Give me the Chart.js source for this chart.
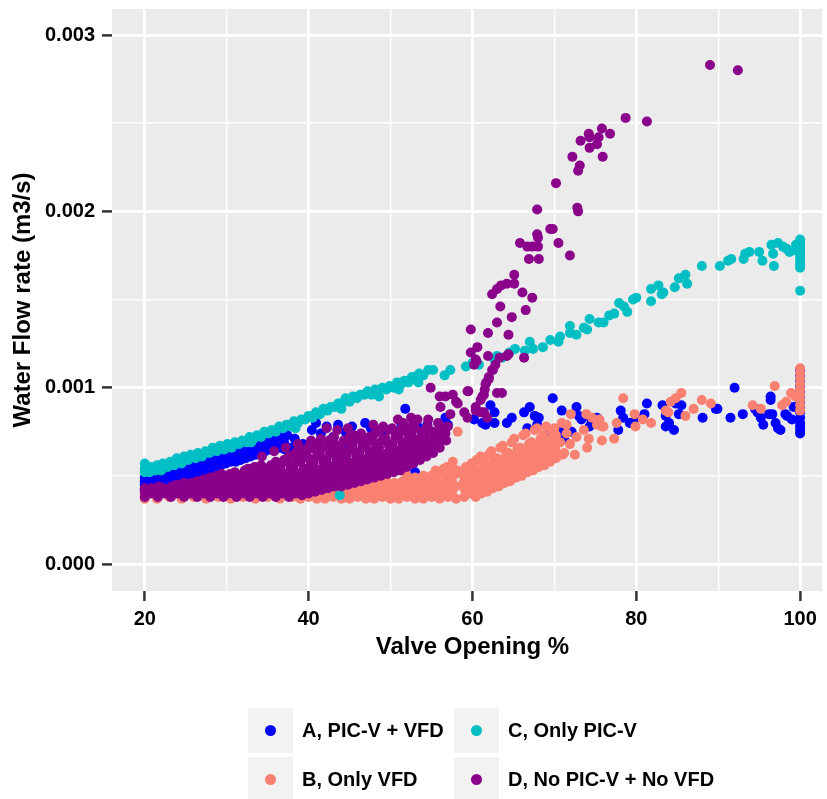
<!DOCTYPE html>
<html>
<head>
<meta charset="utf-8">
<script src="https://cdn.jsdelivr.net/npm/chart.js@4.4.1/dist/chart.umd.min.js"></script>
<style>
  html, body { margin: 0; padding: 0; background: #ffffff; overflow: hidden; }
  #wrap { position: relative; width: 827px; height: 799px; }
  #c { position: absolute; left: 0; top: 0; }
  .key { position: absolute; width: 45px; height: 45px; background: #F2F2F2; }
  .dot { position: absolute; left: 17px; top: 17px; width: 11px; height: 11px; border-radius: 50%; }
  .lab { position: absolute; height: 45px; white-space: nowrap;
         font: bold 20px "Liberation Sans", Arial, Helvetica, sans-serif; line-height: 45px; color: #000; }
</style>
</head>
<body>
<div id="wrap">
  <canvas id="c" width="827" height="799"></canvas>
  <div id="legend"></div>
</div>
<script>
// Series names (legend order)
const categories = ['A, PIC-V + VFD', 'B, Only VFD', 'C, Only PIC-V', 'D, No PIC-V + No VFD'];
const xAxisTitle = 'Valve Opening %';
const yAxisTitle = 'Water Flow rate (m3/s)';

// Axis ticks: majors carry a label, minors only a grid line
const xTicks = [20, 30, 40, 50, 60, 70, 80, 90, 100];
const xTickLabels = ['20', '', '40', '', '60', '', '80', '', '100'];
const yTicks = [0, 0.0005, 0.001, 0.0015, 0.002, 0.0025, 0.003];
const yTickLabels = ['0.000', '', '0.001', '', '0.002', '', '0.003'];

// [valve opening %, water flow rate m3/s]
const seriesA = [
  [20,.00042],[20,.00045],[20,.00047],[20,.00049],
  [20.5,.00049],[20.7,.00044],[21.1,.0005],[21.3,.00046],[21.7,.00051],[22,.00047],[22.3,.00052],[22.6,.00048],
  [22.9,.00053],[23.2,.00049],[23.5,.00054],[23.8,.0005],[24.1,.00055],[24.4,.00051],[24.7,.00056],[25,.00052],
  [25.3,.00057],[25.6,.00053],[25.9,.00058],[26.2,.00054],[26.5,.00059],[26.8,.00055],[27.1,.0006],[27.4,.00056],
  [27.7,.00061],[28,.00057],[28.3,.00062],[28.6,.00058],[28.9,.00063],[29.2,.00059],[29.5,.00064],[29.8,.0006],
  [30.1,.00065],[30.4,.00061],[30.7,.00066],[31,.00062],[31.3,.00066],[31.6,.00063],[31.9,.00067],[32.2,.00064],
  [32.5,.00068],[32.8,.00065],[33.1,.00069],[33.4,.00066],[33.7,.0007],[34,.00067],[34.3,.00071],[34.6,.00068],
  [34.9,.00072],[35.2,.00069],[35.5,.00073],[35.8,.0007],[36.2,.00072],[36.6,.00074],[37,.00069],[37.4,.00073],
  [37.9,.00066],[38.3,.00071],[38.8,.00063],[39.3,.00068],
  [21.5,.00043],[22.1,.00044],[22.7,.00045],[23.3,.00046],[23.9,.00047],[24.5,.00048],[25.1,.00049],[25.7,.0005],
  [26.3,.00051],[26.9,.00052],[27.5,.00053],[28.1,.00054],[28.7,.00055],[29.3,.00056],[29.9,.00057],[30.5,.00058],
  [31.1,.00058],[31.7,.00059],[32.3,.0006],[32.9,.00061],[33.5,.00062],[34.1,.00063],[34.7,.00064],[35.3,.00065],
  [35.9,.00066],[36.5,.00066],[37.1,.00065],[37.7,.00062],[38.5,.00067],[39.5,.00064],
  [40.4,.00076],[40.9,.0008],[41.5,.00074],[42.2,.00078],[43,.00072],[43.6,.00079],[44,.00066],[44.5,.00075],
  [45.3,.00078],[46.2,.00073],[46.9,.0008],[47.6,.00077],[48.8,.00076],[49.3,.00075],[50.7,.00074],[51.3,.0008],
  [51.8,.00088],[53,.00052],[53.3,.00078],[54.5,.00079],[56.7,.00083],[57,.00079],[60.2,.00082],[61.2,.0008],
  [61.6,.00079],[62.2,.0009],[62.7,.00086],[62.7,.0008],[64.2,.0008],[64.8,.00083],[66.3,.00086],[66.7,.00077],
  [67,.00089],[67.6,.00084],[68.1,.00083],[67.9,.00079],[69.6,.00075],[69.8,.00094],[70.7,.00076],[70.9,.00087],
  [71.2,.00071],[72.1,.00075],[72.7,.00089],[73,.00084],[73.3,.00082],[74.3,.00078],[74.5,.00082],[75.2,.00083],
  [77.8,.00076],[78.1,.00087],[78.4,.00083],[79.2,.0008],[79.4,.0008],[80,.00083],[81,.00085],[81.3,.00091],
  [83.2,.0009],[83.6,.00084],[83.6,.00078],[84,.0008],[84.6,.00076],[85.2,.00085],[85.5,.0009],[84.8,.00091],
  [88.1,.00083],[89.7,.00088],[89.9,.00088],[91.5,.00083],[92,.001],[93,.00085],[94.5,.00088],[94.8,.00086],
  [95.2,.00083],[95.5,.00079],[96.2,.00085],[96.4,.00093],[96.4,.00095],[96.6,.00085],[97,.0008],[97.3,.00077],
  [97.6,.00076],[98.2,.00085],[98.4,.00084],[99,.00082],[99.2,.00089],
  [100,.0011],[100,.00107],[100,.00104],[100,.00101],[100,.00098],[100,.00095],[100,.00092],[100,.00089],
  [100,.00086],[100,.00083],[100,.0008],[100,.00078],[100,.00076],[100,.00074]
];

const seriesB = [
  [20,.00037],[20,.0004],[21.5,.00037],[23,.00038],[24.5,.00037],[26,.00038],[27.5,.00037],[29,.00038],
  [30.5,.00037],[32,.00038],[33.5,.00037],[35,.00038],[36.5,.00037],[38,.00038],
  [39,.00037],[40,.00038],[41,.00037],[42,.00037],[43,.00038],[44,.00037],[45,.00037],[46,.00038],[47,.00037],
  [48,.00037],[49,.00038],[50,.00037],[51,.00037],[52,.00038],[53,.00037],[54,.00037],[55,.00038],[56,.00037],
  [57,.00038],[58,.00037],
  [39.5,.0004],[40.5,.00041],[41.5,.0004],[42.5,.0004],[43.5,.00041],[44.5,.0004],[45.5,.0004],[46.5,.00041],
  [47.5,.0004],[48.5,.0004],[49.5,.00041],[50.5,.0004],[51.5,.00041],[52.5,.0004],[53.5,.00041],[54.5,.0004],
  [55.5,.00041],[56.5,.0004],[57.5,.00041],
  [41,.00043],[42,.00043],[43,.00044],[44,.00043],[45,.00043],[46,.00044],[47,.00043],[48,.00044],[49,.00043],
  [50,.00044],[51,.00043],[52,.00044],[53,.00044],[54,.00043],[55,.00044],[56,.00044],[57,.00043],[58,.00044],
  [46.5,.00046],[48.5,.00046],[49.5,.00047],[50.5,.00046],[51.5,.00047],[52.5,.00047],[53.5,.00046],[54.5,.00047],
  [55.5,.00047],[56.5,.00046],[57.5,.00047],
  [52,.0005],[53,.00049],[54,.0005],[55,.0005],[56,.00051],[57,.0005],[58,.00051],
  [55.5,.00053],[56.5,.00054],[57.5,.00055],[58.2,.00053],[57.6,.00058],[56.9,.00055],
  [59,.00038],[59.1,.00042],[58.9,.00046],[59,.0005],[59.2,.00055],
  [59.7,.0004],[59.8,.00044],[59.6,.00048],[59.7,.00052],[59.9,.00057],
  [60.4,.00038],[60.3,.00042],[60.5,.00046],[60.4,.0005],[60.2,.00054],[60.5,.00059],
  [61.1,.0004],[61.2,.00044],[61,.00048],[61.1,.00052],[61.3,.00056],[61,.00061],
  [61.8,.00041],[61.7,.00045],[61.9,.00049],[61.8,.00053],[61.6,.00057],[62,.00062],
  [62.5,.00043],[62.6,.00047],[62.4,.00051],[62.5,.00055],[62.7,.00059],[62.3,.00064],
  [63.2,.00044],[63.1,.00048],[63.3,.00052],[63.2,.00056],[63,.0006],[63.4,.00066],
  [63.9,.00046],[64,.0005],[63.8,.00054],[63.9,.00058],[64.1,.00062],[63.7,.00067],
  [64.6,.00047],[64.5,.00051],[64.7,.00055],[64.6,.00059],[64.4,.00063],[64.8,.00069],
  [65.3,.00049],[65.4,.00053],[65.2,.00057],[65.3,.00061],[65.5,.00065],[65.1,.00071],
  [66,.0005],[65.9,.00054],[66.1,.00058],[66,.00062],[65.8,.00066],[66.2,.00073],
  [66.7,.00052],[66.8,.00056],[66.6,.0006],[66.7,.00064],[66.9,.00068],[66.5,.00074],
  [67.4,.00053],[67.3,.00057],[67.5,.00061],[67.4,.00065],[67.2,.00069],[67.6,.00076],
  [68.1,.00055],[68.2,.00059],[68,.00063],[68.1,.00067],[68.3,.00071],[67.9,.00077],
  [68.8,.00056],[68.7,.0006],[68.9,.00064],[68.8,.00068],[68.6,.00073],[69,.00078],
  [69.5,.00058],[69.6,.00062],[69.4,.00066],[69.5,.0007],[69.7,.00075],
  [70.2,.0006],[70.1,.00065],[70.3,.00069],[70.2,.00073],[70,.00077],
  [71,.00062],[70.7,.00069],[71.2,.00063],[71.9,.00068],[71.5,.00074],
  [58.2,.00075],[70.9,.0008],[71.5,.00079],[72,.00085],[72.5,.00062],[72.7,.00072],[73.6,.00076],[73.9,.00085],
  [74,.00066],[74.2,.00071],[74.6,.00083],[75.2,.00079],[75.5,.00082],[75.8,.00078],[75.8,.0007],[76,.00078],
  [77.3,.00071],[77.6,.0008],[78.4,.00094],[79.8,.00085],[79.9,.00078],[80.8,.00082],[81.8,.0008],[83.6,.00087],
  [83.9,.00086],[84.2,.00092],[84.8,.00094],[85.5,.00097],[86,.00084],[87,.00088],[88,.00093],[89.1,.00091],
  [94.2,.0009],[95.2,.00088],[96.9,.00101],[97.8,.0009],[98.3,.00092],[98.9,.00097],[99.4,.00095],
  [100,.00111],[100,.00108],[100,.00105],[100,.00102],[100,.00099],[100,.00096],[100,.00093],[100,.0009],[100,.00087]
];

const seriesC = [
  [20,.00052],[20,.00054],[20,.00057],
  [20.6,.00052],[20.8,.00055],[21.3,.00053],[21.5,.00056],[22,.00053],[22.2,.00057],[22.8,.00055],[23.1,.00058],
  [23.6,.00056],[23.9,.0006],[24.5,.00057],[24.8,.00061],[25.3,.00059],[25.6,.00062],[26.2,.0006],[26.5,.00063],
  [27,.00061],[27.4,.00064],[27.9,.00063],[28.3,.00066],[28.8,.00064],[29.2,.00067],[29.7,.00065],[30.1,.00068],
  [30.6,.00066],[31,.00069],[31.5,.00068],[31.9,.0007],[32.4,.00069],[32.8,.00072],[33.3,.00071],[33.7,.00073],
  [34.2,.00072],[34.6,.00075],[35.1,.00074],[35.5,.00076],[36,.00075],[36.4,.00078],[36.9,.00077],[37.3,.00079],
  [37.8,.00078],[38.2,.00081],[38.7,.0008],[39.1,.00082],[39.6,.00082],[40,.00084],[40.5,.00083],[40.9,.00086],
  [41.4,.00085],[41.8,.00088],[42.3,.00087],[42.7,.00089],[43.2,.00089],[43.6,.00091],[44.1,.00091],[44.5,.00094],
  [45,.00092],[45.4,.00095],[45.9,.00094],[46.3,.00096],[46.8,.00096],[47.2,.00098],[47.7,.00096],[48.1,.00099],
  [48.6,.00095],[49,.001],[49.5,.00099],[49.9,.00101],[50.4,.001],[50.8,.00103],[51.3,.00102],[51.7,.00104],
  [52.2,.00103],[52.6,.00106],[53.1,.00106],[53.5,.00108],[54,.00107],[54.6,.0011],[55.2,.0011],[56.6,.00107],
  [33,.00069],[38.4,.00077],[44,.00088],[51,.00099],[53.4,.00103],
  [57.3,.0011],[59.2,.00112],[60,.00114],[60.8,.00113],[62.7,.00116],[63,.00118],[63.6,.00117],[64.5,.0012],
  [65.2,.00122],[66.4,.00121],[67,.00126],[67.4,.00122],[68.6,.00123],[69.5,.00127],[70.5,.00126],[70.7,.00129],
  [71.9,.00131],[71.9,.00135],[72.7,.0013],[73.6,.00134],[74,.00133],[74.3,.00139],[75.4,.00137],[76,.00137],
  [76.7,.00141],[77.3,.00142],[77.9,.00148],[78.5,.00146],[78.9,.00143],[79.6,.0015],[80,.00151],[81.8,.00149],
  [81.8,.00156],[82.7,.00158],[83.1,.00153],[83.3,.00154],[84.7,.00157],[85.2,.00162],[86,.00164],[86.2,.00159],
  [88,.00169],[90.2,.00169],[91.2,.00172],[91.6,.00173],[93.1,.00173],[93.3,.00176],[93.8,.00177],[95,.00177],
  [95.4,.00172],[96.5,.00181],[96.7,.00176],[96.8,.00169],[97.3,.00182],[97.9,.0018],[98.3,.00179],[98.7,.00177],
  [99.2,.00178],[99.5,.00181],
  [100,.00184],[100,.00182],[100,.0018],[100,.00178],[100,.00176],[100,.00174],[100,.00172],[100,.0017],
  [100,.00168],[100,.00155],[43.8,.00039]
];

const seriesD = [
  [20,.00038],[20,.00041],[20,.00043],
  [20.8,.0004],[20.8,.00043],
  [21.6,.00038],[21.6,.00041],[21.7,.00044],
  [22.4,.0004],[22.3,.00043],
  [23.2,.00038],[23.1,.00041],[23.3,.00044],
  [24,.0004],[24.1,.00043],[23.9,.00045],
  [24.8,.00038],[24.9,.00041],[24.7,.00044],[24.8,.00046],
  [25.6,.0004],[25.5,.00043],[25.7,.00046],
  [26.4,.00038],[26.3,.00042],[26.5,.00045],[26.4,.00047],
  [27.2,.0004],[27.1,.00043],[27.3,.00046],[27.2,.00048],
  [28,.00038],[28.1,.00042],[27.9,.00045],[28,.00049],
  [28.8,.0004],[28.7,.00044],[28.9,.00047],[28.8,.0005],
  [29.6,.00038],[29.5,.00042],[29.7,.00046],[29.6,.00049],[29.4,.00051],
  [30.4,.0004],[30.3,.00044],[30.5,.00048],[30.4,.00051],
  [31.2,.00038],[31.1,.00042],[31.3,.00046],[31.2,.0005],[31,.00052],
  [32,.0004],[32.1,.00044],[31.9,.00048],[32,.00051],[32.2,.00053],
  [32.8,.00038],[32.7,.00042],[32.9,.00046],[32.8,.0005],[32.6,.00054],
  [33.6,.0004],[33.5,.00044],[33.7,.00048],[33.6,.00052],[33.4,.00055],
  [34.4,.00038],[34.3,.00042],[34.5,.00046],[34.4,.0005],[34.6,.00054],[34.2,.00056],[34.3,.00061],
  [35.2,.0004],[35.1,.00044],[35.3,.00048],[35.2,.00052],[35.4,.00056],[35.8,.00064],
  [36,.00038],[36.1,.00042],[35.9,.00046],[36,.0005],[36.2,.00054],[36,.00058],
  [36.8,.0004],[36.7,.00044],[36.9,.00048],[36.8,.00052],[36.6,.00056],[37,.00059],[37.2,.00066],
  [37.6,.00038],[37.5,.00042],[37.7,.00046],[37.6,.0005],[37.8,.00054],[37.4,.00058],[37.6,.00061],
  [38.4,.0004],[38.3,.00044],[38.5,.00048],[38.4,.00052],[38.2,.00056],[38.6,.0006],[38.4,.00063],[38.7,.00068],
  [39.2,.00039],[39.1,.00042],[39.3,.00046],[39.2,.0005],[39.4,.00054],[39,.00058],[39.2,.00062],[39.4,.00065],
  [40,.0004],[40.1,.00044],[39.9,.00048],[40,.00052],[40.2,.00056],[40,.0006],[39.8,.00064],[40.1,.00067],[40.3,.0007],
  [40.8,.00041],[40.7,.00045],[40.9,.00049],[40.8,.00053],[40.6,.00057],[41,.00061],[40.8,.00065],[41,.00068],
  [41.6,.00042],[41.5,.00046],[41.7,.0005],[41.6,.00054],[41.8,.00058],[41.4,.00062],[41.6,.00066],[41.5,.00071],
  [42.4,.00043],[42.3,.00047],[42.5,.00051],[42.4,.00055],[42.2,.00059],[42.6,.00063],[42.4,.00067],[42.5,.0007],[42.2,.00077],
  [43.2,.00044],[43.1,.00048],[43.3,.00052],[43.2,.00056],[43.4,.0006],[43,.00064],[43.2,.00068],[43.1,.00072],[43.5,.00076],
  [44,.00044],[44.1,.00048],[43.9,.00052],[44,.00056],[44.2,.0006],[44,.00064],[43.8,.00067],[44.3,.0007],
  [44.8,.00045],[44.7,.00049],[44.9,.00053],[44.8,.00057],[44.6,.00061],[45,.00065],[44.8,.00069],[45,.00072],[44.8,.00077],
  [45.6,.00046],[45.5,.0005],[45.7,.00054],[45.6,.00058],[45.8,.00062],[45.4,.00066],[45.6,.0007],[45.5,.00073],
  [46.4,.00047],[46.3,.00051],[46.5,.00055],[46.4,.00059],[46.2,.00063],[46.6,.00067],[46.4,.00071],[46.4,.00074],
  [47.2,.00048],[47.1,.00052],[47.3,.00056],[47.2,.0006],[47.4,.00064],[47,.00068],[47.4,.00072],[47.9,.00079],
  [48,.00049],[48.1,.00053],[47.9,.00057],[48,.00061],[48.2,.00065],[48,.00069],[48.1,.00074],
  [48.8,.0005],[48.7,.00054],[48.9,.00058],[48.8,.00062],[48.6,.00066],[49,.0007],[48.6,.00075],[49.1,.00078],
  [49.6,.00051],[49.5,.00055],[49.7,.00059],[49.6,.00063],[49.8,.00067],[49.4,.00071],[49.8,.00076],
  [50.4,.00052],[50.3,.00056],[50.5,.0006],[50.4,.00064],[50.2,.00068],[50.6,.00072],[50.2,.00077],[50.9,.00082],
  [51.2,.00053],[51.1,.00057],[51.3,.00061],[51.2,.00065],[51.4,.00069],[51,.00073],[51.2,.00076],[51.5,.0008],
  [52,.00055],[52.1,.00059],[51.9,.00063],[52,.00067],[52.2,.00071],[52,.00075],[51.8,.00078],[52.5,.00083],
  [52.8,.00057],[52.7,.00061],[52.9,.00065],[52.8,.00069],[52.6,.00073],[53,.00077],[52.8,.0008],
  [53.6,.00059],[53.5,.00063],[53.7,.00067],[53.6,.00071],[53.8,.00075],[53.3,.00082],
  [54.4,.00061],[54.3,.00065],[54.5,.00069],[54.2,.00073],[54.5,.00078],[54.6,.00082],
  [55.2,.00063],[55.1,.00067],[55.3,.00071],[55.2,.00075],[55.8,.0008],
  [56,.00066],[56.1,.0007],[55.9,.00074],[56.1,.00078],[56.1,.00089],
  [56.8,.0007],[57,.00078],[56.7,.00074],[57.3,.00085],
  [54.9,.001],[56,.00095],[56.7,.00095],[57.6,.00096],[58,.00092],[58.2,.00091],[59,.00086],[59.4,.00098],
  [59.5,.00098],[59.4,.00083],[60.4,.00089],[60.4,.00087],[61,.00093],[61,.00086],[61.4,.00086],[61.2,.00095],
  [61.8,.00083],[63,.00097],[63.6,.00097],
  [61.4,.00096],[61.5,.00099],[61.6,.00102],[61.7,.00103],[62,.00105],[62,.00106],[62.4,.0011],[62.5,.0011],[62.8,.00113],
  [59.8,.0012],[59.8,.00133],[60.2,.00113],[60.5,.00115],[60.4,.00116],[60.6,.00123],[61.9,.00118],[61.9,.00131],
  [63,.00137],[63.3,.00117],[63.4,.00146],[64.2,.00118],[64.4,.00119],[64.4,.0013],[64.8,.0014],[66.3,.00117],[66.5,.00144],
  [62.4,.00153],[63,.00156],[63.5,.00158],[64.2,.00159],[65.1,.00159],[65.1,.00164],[66.1,.00154],[67.3,.00151],
  [65.8,.00182],[66.7,.0018],[67.3,.0018],[68,.0018],[67.9,.00187],[68,.00185],[66.9,.00173],[68.1,.00173],
  [70.5,.00182],[71.9,.00175],
  [67.9,.00201],[69.5,.0019],[69.8,.0019],[70.2,.00216],[72.8,.00202],[72.9,.002],
  [72.2,.00231],[72.9,.00223],[73.1,.00226],[73.2,.0024],[74.2,.00244],[74.3,.00242],[74.3,.00236],[75.2,.00238],
  [75.4,.00242],[75.8,.00247],[75.9,.00231],[76.8,.00244],
  [78.7,.00253],[81.3,.00251],[89,.00283],[92.4,.0028]
];

const allSeries = [seriesA, seriesB, seriesC, seriesD];
const seriesColors = ['#0000FF', '#FA8072', '#00BFC4', '#8B008B'];
const FONT = '"Liberation Sans", Arial, Helvetica, sans-serif';

// grey panel behind the grid, ggplot style
const panelBackground = {
  id: 'panelBackground',
  beforeDraw(chart) {
    const { ctx, chartArea: a } = chart;
    ctx.save();
    ctx.fillStyle = '#EBEBEB';
    ctx.fillRect(a.left, a.top, a.right - a.left, a.bottom - a.top);
    ctx.restore();
  }
};

// x title centred on the full panel (which runs on past the right edge)
const xTitlePlugin = {
  id: 'xTitlePlugin',
  afterDraw(chart) {
    const { ctx, chartArea: a } = chart;
    const xs = chart.scales.x;
    ctx.save();
    ctx.font = 'bold 24px ' + FONT;
    ctx.fillStyle = '#000';
    ctx.textAlign = 'center';
    ctx.textBaseline = 'middle';
    ctx.fillText(xAxisTitle, xs.getPixelForValue(60), a.bottom + 56);
    ctx.restore();
  }
};

const datasets = allSeries.map((s, i) => ({
  label: categories[i],
  data: s.map(([x, y]) => ({ x, y })),
  backgroundColor: seriesColors[i],
  pointBackgroundColor: seriesColors[i],
  pointBorderWidth: 0,
  pointRadius: 5,
  pointHoverRadius: 5,
  showLine: false,
  order: allSeries.length - i   // later groups are painted on top
}));

function axisGrid(labels) {
  return {
    color: '#FFFFFF',
    lineWidth: c => (labels[c.index] ? 2.8 : 1.4),
    drawTicks: true,
    tickLength: 10,
    tickWidth: 2.5,
    tickColor: c => (labels[c.index] ? '#333333' : 'rgba(0,0,0,0)')
  };
}

new Chart(document.getElementById('c'), {
  type: 'scatter',
  data: { datasets },
  options: {
    responsive: false,
    animation: false,
    events: [],
    layout: { padding: { top: 9, right: 0, bottom: 0, left: 0 } },
    plugins: { legend: { display: false }, tooltip: { enabled: false } },
    scales: {
      x: {
        type: 'linear',
        min: 16,
        max: 102.67,
        border: { display: false },
        grid: axisGrid(xTickLabels),
        afterBuildTicks: s => { s.ticks = xTicks.map(v => ({ value: v })); },
        afterFit: s => { s.height = 208; s.paddingLeft = 0; s.paddingRight = 0; },
        ticks: {
          autoSkip: false, maxRotation: 0, minRotation: 0, padding: 6,
          color: '#000', font: { family: FONT, size: 20, weight: 'bold' },
          callback: (v, i) => xTickLabels[i]
        },
        title: { display: false }
      },
      y: {
        type: 'linear',
        min: -0.000153,
        max: 0.0031475,
        border: { display: false },
        grid: axisGrid(yTickLabels),
        afterBuildTicks: s => { s.ticks = yTicks.map(v => ({ value: v })); },
        afterFit: s => { s.width = 112; s.paddingTop = 0; s.paddingBottom = 0; },
        ticks: {
          autoSkip: false, padding: 7,
          color: '#000', font: { family: FONT, size: 20, weight: 'bold' },
          callback: (v, i) => yTickLabels[i]
        },
        title: {
          display: true, text: yAxisTitle, color: '#000',
          font: { family: FONT, size: 24, weight: 'bold' },
          padding: { top: 8.6, bottom: 0 }
        }
      }
    }
  },
  plugins: [panelBackground, xTitlePlugin]
});

// two-by-two legend under the plot, filled column by column
const legend = document.getElementById('legend');
const colLeft = [248, 454];
const rowTop = [708, 757];
categories.forEach((name, i) => {
  const col = Math.floor(i / 2), row = i % 2;
  const key = document.createElement('div');
  key.className = 'key';
  key.style.left = colLeft[col] + 'px';
  key.style.top = rowTop[row] + 'px';
  const dot = document.createElement('span');
  dot.className = 'dot';
  dot.style.background = seriesColors[i];
  key.appendChild(dot);
  const lab = document.createElement('div');
  lab.className = 'lab';
  lab.style.left = (colLeft[col] + 54) + 'px';
  lab.style.top = rowTop[row] + 'px';
  lab.textContent = name;
  legend.appendChild(key);
  legend.appendChild(lab);
});
</script>
</body>
</html>
